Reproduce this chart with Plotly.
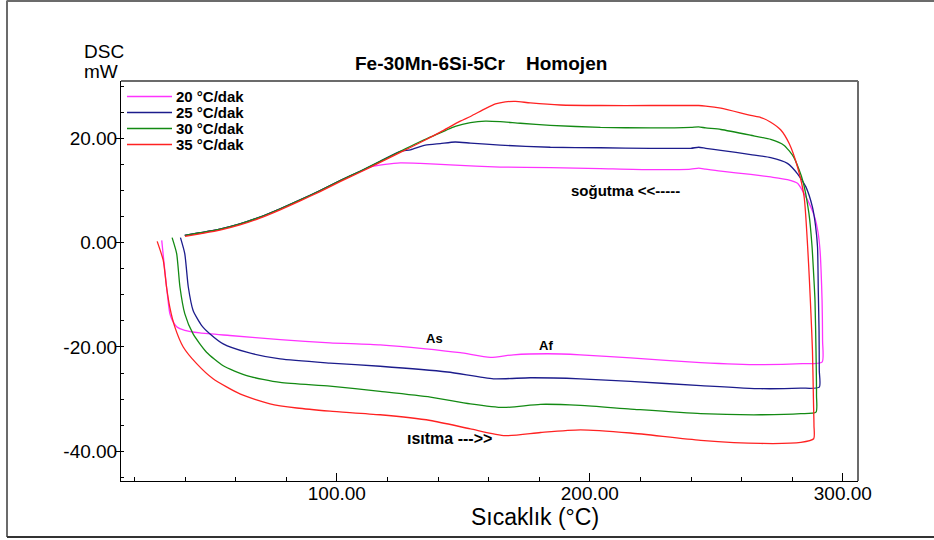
import plotly.graph_objects as go

# ---- data (temperature °C, heat flow mW), each curve: heating -> right turn -> cooling ----
T_20 = [30.8, 31.6, 32.7, 33.4, 34.0, 35.0, 36.7, 39.9, 45.9, 57.7, 77.6, 97.3, 117.1, 134.2, 148.8, 160.7, 169.8, 183.3,
        196.3, 216.1, 243.8, 267.6, 284.0, 291.8, 292.0, 291.8, 291.4, 291.0, 290.2, 289.0, 287.4, 284.6, 282.1, 278.1,
        271.5, 263.6, 251.8, 245.8, 243.0, 239.9, 224.0, 204.2, 184.4, 164.6, 144.8, 133.0, 125.1, 119.1, 113.2, 107.2,
        101.3, 93.4, 85.5, 77.6, 69.6, 61.7, 53.8, 45.9, 39.9]
Q_20 = [0.45, -3.4, -8.5, -11.5, -13.6, -14.9, -16.1, -16.8, -17.3, -17.8, -18.6, -19.2, -19.6, -20.3, -21.1, -22.0, -21.5, -21.3,
        -21.5, -22.1, -23.0, -23.4, -23.2, -22.9, -18.8, -11.1, -5.3, -1.5, 2.0, 4.7, 6.8, 9.5, 11.4, 12.1,
        12.6, 13.1, 13.7, 14.1, 14.3, 14.1, 14.0, 14.2, 14.4, 14.5, 14.9, 15.2, 15.3, 15.0, 14.5, 13.2,
        11.9, 10.0, 8.2, 6.5, 4.9, 3.6, 2.6, 1.9, 1.4]

T_25 = [38.2, 39.9, 41.3, 43.2, 46.6, 49.9, 55.1, 64.4, 77.6, 97.3, 117.1, 143.7, 161.9, 176.5, 196.3, 216.1, 243.8, 267.6,
        283.4, 290.7, 290.7, 290.6, 290.3, 290.0, 289.2, 288.0, 285.4, 282.1, 278.1, 271.5, 263.6, 251.8, 245.8, 243.0,
        239.9, 224.0, 204.2, 184.4, 164.6, 152.8, 146.8, 140.9, 135.0, 129.1, 125.1, 117.1, 109.2, 101.3, 93.4, 85.5,
        77.6, 69.6, 61.7, 53.8, 45.9, 39.9]
Q_25 = [0.96, -2.1, -8.5, -13.0, -15.9, -17.5, -19.4, -21.0, -22.3, -23.1, -23.7, -24.8, -26.1, -25.9, -26.1, -26.6, -27.4, -28.0,
        -27.9, -27.7, -24.5, -16.8, -9.2, -0.8, 3.3, 6.8, 10.7, 13.2, 15.2, 16.3, 16.9, 17.7, 18.1, 18.3,
        18.1, 18.1, 18.2, 18.3, 18.7, 19.1, 19.3, 19.0, 18.7, 17.8, 17.5, 15.6, 13.7, 11.9, 10.0, 8.2,
        6.5, 4.9, 3.6, 2.6, 1.9, 1.4]

T_30 = [34.9, 36.7, 38.0, 39.9, 43.2, 48.5, 55.1, 64.4, 77.6, 97.3, 117.1, 137.0, 152.8, 165.9, 180.5, 196.3, 216.1, 243.8,
        267.6, 283.4, 289.4, 289.6, 289.4, 289.0, 288.6, 287.8, 286.6, 284.1, 280.6, 276.7, 271.5, 263.6, 251.8, 245.8,
        243.0, 239.9, 224.0, 204.2, 184.4, 172.5, 164.6, 158.7, 152.8, 146.8, 142.9, 133.0, 125.1, 117.1, 109.2, 101.3,
        93.4, 85.5, 77.6, 69.6, 61.7, 53.8, 45.9, 39.9]
Q_30 = [0.96, -2.1, -8.5, -13.6, -17.5, -21.0, -23.6, -25.5, -26.8, -27.5, -28.5, -29.6, -30.9, -31.6, -31.0, -31.2, -31.9, -32.8,
        -33.0, -32.8, -32.5, -29.3, -20.7, -11.1, -7.2, -0.5, 5.6, 12.0, 16.4, 18.7, 19.8, 20.6, 21.7, 22.0,
        22.2, 22.1, 22.0, 22.1, 22.5, 22.9, 23.2, 23.3, 23.0, 22.3, 21.5, 19.4, 17.5, 15.6, 13.7, 11.9,
        10.0, 8.2, 6.5, 4.9, 3.6, 2.6, 1.9, 1.4]

T_35 = [29.0, 31.4, 32.7, 34.0, 36.0, 39.3, 44.6, 51.1, 61.7, 73.6, 84.2, 97.3, 117.1, 137.0, 152.8, 166.6, 180.5, 196.3,
        216.1, 243.8, 267.6, 283.4, 288.5, 288.6, 288.4, 288.0, 287.4, 286.8, 286.1, 284.7, 282.1, 278.8, 275.5, 271.5,
        267.6, 263.6, 251.8, 245.8, 243.0, 239.9, 224.0, 204.2, 188.4, 176.5, 170.6, 166.6, 162.7, 158.7, 152.8, 148.8,
        140.9, 133.0, 125.1, 117.1, 109.2, 101.3, 93.4, 85.5, 77.6, 69.6, 61.7, 53.8, 45.9, 40.0]
Q_35 = [0.25, -3.4, -8.5, -12.4, -16.2, -20.0, -23.2, -26.1, -29.0, -30.9, -31.7, -32.3, -33.0, -34.1, -35.7, -37.0, -36.4, -35.9,
        -36.5, -37.9, -38.5, -38.3, -37.6, -35.1, -30.3, -20.7, -13.6, -7.2, -0.8, 8.8, 14.5, 19.0, 21.6, 23.1,
        24.0, 24.4, 25.8, 26.2, 26.3, 26.3, 26.3, 26.3, 26.4, 26.8, 27.1, 27.0, 26.6, 25.7, 24.2, 23.3,
        21.2, 19.2, 17.3, 15.4, 13.5, 11.7, 9.8, 8.0, 6.3, 4.7, 3.4, 2.4, 1.7, 1.2]

SERIES = ["20 °C/dak", "25 °C/dak", "30 °C/dak", "35 °C/dak"]
COLORS = ["#ff33ff", "#1c1c8c", "#138a13", "#ff2222"]

X_TICKS = [100, 200, 300]
X_TICK_TEXT = ["100.00", "200.00", "300.00"]
Y_TICKS = [-40, -20, 0, 20]
Y_TICK_TEXT = ["-40.00", "-20.00", "0.00", "20.00"]

fig = go.Figure()
for name, xs, ys, col in zip(SERIES, [T_20, T_25, T_30, T_35], [Q_20, Q_25, Q_30, Q_35], COLORS):
    fig.add_trace(go.Scatter(x=xs, y=ys, mode="lines", name=name, showlegend=False,
                             line=dict(color=col, width=1.3, shape="spline", smoothing=0.6)))

font_main = "Liberation Sans, Arial, sans-serif"

# plot area in pixels: left 121, right 858, top 81, bottom 481
PL, PW, PB, PH = 121, 737, 481, 400


def px(x):
    return (x - PL) / PW


def py(y):
    return (PB - y) / PH


fig.update_layout(
    width=934, height=540,
    margin=dict(l=121, r=76, t=81, b=59),
    paper_bgcolor="white", plot_bgcolor="white",
    font=dict(family=font_main, color="black"),
    showlegend=False,
    xaxis=dict(range=[14.7, 306.0], tickvals=X_TICKS, ticktext=X_TICK_TEXT, ticks="inside", ticklen=8,
               tickcolor="black", showgrid=False, zeroline=False, showline=True, linecolor="black",
               linewidth=1, tickfont=dict(size=19, family=font_main), ticklabelstandoff=-5,
               minor=dict(dtick=20, tick0=0, ticks="inside", ticklen=4, tickcolor="black", showgrid=False)),
    yaxis=dict(range=[-45.7, 31.0], tickvals=Y_TICKS, ticktext=Y_TICK_TEXT, ticks="outside", ticklen=4,
               tickcolor="black", showgrid=False, zeroline=False, showline=True, linecolor="black",
               linewidth=1, tickfont=dict(size=19, family=font_main), ticklabelstandoff=-5,
               minor=dict(dtick=5, tick0=0, ticks="inside", ticklen=3, tickcolor="black", showgrid=False)),
)

# plot frame (top / right) and outer frame
fig.add_shape(type="line", xref="paper", yref="paper", x0=0, x1=1, y0=1, y1=1, line=dict(color="#6b6b6b", width=2))
fig.add_shape(type="line", xref="paper", yref="paper", x0=1, x1=1, y0=0, y1=1, line=dict(color="#6b6b6b", width=2))
fig.add_shape(type="line", xref="paper", yref="paper", x0=px(7), x1=px(7), y0=py(537), y1=py(0.5),
              line=dict(color="#6b6b6b", width=2))
fig.add_shape(type="line", xref="paper", yref="paper", x0=px(7), x1=px(940), y0=py(1), y1=py(1),
              line=dict(color="#6b6b6b", width=2))
fig.add_shape(type="line", xref="paper", yref="paper", x0=px(7), x1=px(940), y0=py(537), y1=py(537),
              line=dict(color="#333333", width=2))

# legend (keys + labels)
for i, (name, col) in enumerate(zip(SERIES, COLORS)):
    yy = 96.5 + 16 * i
    fig.add_shape(type="line", xref="paper", yref="paper", x0=px(127), x1=px(172), y0=py(yy), y1=py(yy),
                  line=dict(color=col, width=1.3))
    fig.add_annotation(xref="paper", yref="paper", x=px(174), y=py(yy), showarrow=False, text="<b>%s</b>" % name,
                       font=dict(size=15), xanchor="left", yanchor="middle")

# texts
fig.add_annotation(xref="paper", yref="paper", x=px(481), y=py(63), showarrow=False,
                   text="<b>Fe-30Mn-6Si-5Cr\u00a0\u00a0\u00a0\u00a0Homojen</b>", font=dict(size=19),
                   xanchor="center", yanchor="middle")
fig.add_annotation(xref="paper", yref="paper", x=px(103.5), y=py(51.5), showarrow=False,
                   text="DSC", font=dict(size=19), xanchor="center", yanchor="middle")
fig.add_annotation(xref="paper", yref="paper", x=px(101), y=py(71.5), showarrow=False,
                   text="mW", font=dict(size=19), xanchor="center", yanchor="middle")
fig.add_annotation(xref="paper", yref="paper", x=px(535), y=py(517), showarrow=False,
                   text="Sıcaklık (°C)", font=dict(size=23), xanchor="center", yanchor="middle")

fig.add_annotation(x=214, y=10.0, showarrow=False, text="<b>soğutma <<-----</b>", font=dict(size=15))
fig.add_annotation(x=138.5, y=-18.4, showarrow=False, text="<b>As</b>", font=dict(size=13))
fig.add_annotation(x=182.8, y=-19.7, showarrow=False, text="<b>Af</b>", font=dict(size=13))
fig.add_annotation(x=144.4, y=-37.6, showarrow=False, text="<b>ısıtma --->></b>", font=dict(size=16))

fig.write_html("out.html")
